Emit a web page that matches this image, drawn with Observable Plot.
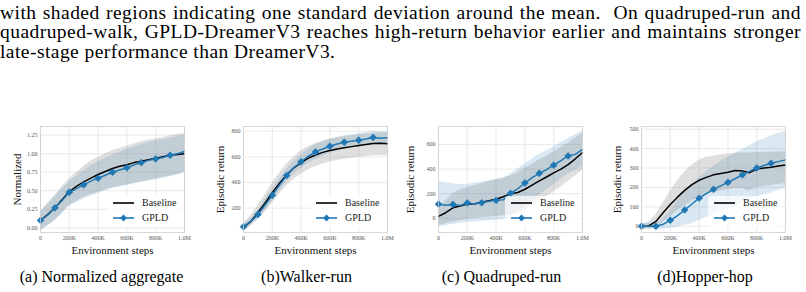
<!DOCTYPE html>
<html>
<head>
<meta charset="utf-8">
<script src="https://cdn.jsdelivr.net/npm/d3@7"></script>
<script src="https://cdn.jsdelivr.net/npm/@observablehq/plot@0.6"></script>
<style>
  html, body { margin: 0; padding: 0; background: #fff; }
  body { position: relative; width: 806px; height: 292px; overflow: hidden; font-family: "Liberation Serif", "Times New Roman", serif; color: #000; }
  .para { position: absolute; left: 0; top: 2.5px; width: 801px; font-size: 19.5px; line-height: 19.5px; letter-spacing: 0.45px; }
  .para .j { text-align: justify; text-align-last: justify; }
  .panel { position: absolute; top: 100px; }
  .panel svg { overflow: visible; }
  .panel g[aria-label="x-axis label"], .panel g[aria-label="y-axis label"] { font-size: 11px; color: #111; }
  .legend { position: absolute; width: 75px; height: 31px; background: rgba(255,255,255,0.72); border-radius: 2px; }
  .legend svg { display: block; overflow: visible; }
  .caption { position: absolute; top: 267px; font-size: 16px; line-height: 20px; white-space: nowrap; transform: translateX(-50%); }
</style>
</head>
<body>
<div class="para">
  <div class="j">with shaded regions indicating one standard deviation around the mean.&nbsp; On quadruped-run and</div>
  <div class="j">quadruped-walk, GPLD-DreamerV3 reaches high-return behavior earlier and maintains stronger</div>
  <div>late-stage performance than DreamerV3.</div>
</div>
<div id="charts"></div>
<script>
// Environment steps at which each run is summarised (every 50K).
const steps = [0, 50000, 100000, 150000, 200000, 250000, 300000, 350000, 400000, 450000, 500000,
               550000, 600000, 650000, 700000, 750000, 800000, 850000, 900000, 950000, 1000000];
const xTicks = [0, 200000, 400000, 600000, 800000, 1000000];
const xTickLabels = ["0", "200K", "400K", "600K", "800K", "1.0M"];

// (a) Normalized aggregate
const aggBase   = [0.10, 0.18, 0.27, 0.38, 0.49, 0.56, 0.62, 0.67, 0.72, 0.76, 0.80, 0.83, 0.85, 0.88, 0.90, 0.92, 0.94, 0.96, 0.98, 0.99, 1.00];
const aggBaseLo = [-0.03, 0.03, 0.10, 0.20, 0.30, 0.36, 0.41, 0.45, 0.48, 0.51, 0.54, 0.56, 0.58, 0.60, 0.62, 0.64, 0.66, 0.68, 0.70, 0.72, 0.75];
const aggBaseHi = [0.22, 0.33, 0.44, 0.55, 0.66, 0.75, 0.83, 0.90, 0.95, 1.00, 1.04, 1.07, 1.10, 1.13, 1.16, 1.18, 1.20, 1.22, 1.24, 1.26, 1.27];
const aggGpld   = [0.10, 0.17, 0.27, 0.37, 0.48, 0.53, 0.58, 0.63, 0.67, 0.71, 0.75, 0.78, 0.81, 0.85, 0.88, 0.91, 0.93, 0.95, 0.98, 1.00, 1.03];
const aggGpldLo = [-0.04, 0.02, 0.10, 0.19, 0.29, 0.34, 0.39, 0.43, 0.46, 0.50, 0.53, 0.55, 0.57, 0.59, 0.61, 0.63, 0.65, 0.67, 0.69, 0.71, 0.75];
const aggGpldHi = [0.21, 0.31, 0.42, 0.52, 0.62, 0.70, 0.77, 0.84, 0.89, 0.94, 0.98, 1.02, 1.06, 1.09, 1.12, 1.15, 1.17, 1.19, 1.21, 1.23, 1.25];
const aggTicks  = [0, 0.25, 0.5, 0.75, 1.0, 1.25];

// (b) Walker-run
const walkBase   = [50, 95, 165, 240, 320, 395, 460, 515, 555, 590, 615, 635, 650, 662, 672, 680, 688, 697, 705, 707, 703];
const walkBaseLo = [20, 55, 110, 170, 240, 310, 375, 425, 465, 500, 525, 545, 560, 572, 582, 590, 597, 603, 608, 610, 610];
const walkBaseHi = [80, 140, 220, 305, 395, 475, 545, 600, 645, 680, 705, 722, 737, 748, 757, 765, 772, 778, 783, 786, 790];
const walkGpld   = [55, 95, 150, 225, 300, 380, 455, 515, 562, 605, 638, 662, 683, 700, 714, 722, 730, 740, 752, 745, 750];
const walkGpldLo = [35, 70, 115, 180, 255, 330, 405, 465, 510, 550, 580, 605, 628, 645, 660, 670, 680, 690, 700, 700, 705];
const walkGpldHi = [75, 120, 185, 270, 345, 430, 505, 565, 615, 660, 695, 718, 738, 752, 765, 772, 780, 788, 800, 795, 795];
const walkTicks  = [200, 400, 600, 800];

// (c) Quadruped-run
const quadBase   = [15, 45, 85, 100, 115, 118, 130, 142, 155, 175, 198, 210, 236, 270, 305, 336, 370, 400, 437, 484, 535];
const quadBaseLo = [-60, -45, -30, -20, -10, 0, 5, 10, 15, 20, 25, 40, 70, 105, 140, 175, 215, 255, 300, 345, 390];
const quadBaseHi = [90, 140, 200, 230, 250, 265, 280, 300, 315, 330, 345, 370, 405, 440, 475, 505, 540, 575, 610, 650, 690];
const quadGpld   = [115, 106, 112, 104, 125, 116, 126, 139, 146, 150, 203, 240, 287, 330, 366, 396, 432, 470, 507, 520, 560];
const quadGpldLo = [-75, -60, -50, -40, -35, -30, -25, -20, -15, -10, 10, 50, 95, 140, 190, 230, 270, 320, 360, 390, 420];
const quadGpldHi = [300, 290, 280, 275, 275, 285, 295, 305, 315, 320, 360, 400, 440, 480, 520, 550, 580, 615, 650, 680, 710];
const quadTicks  = [0, 200, 400, 600];

// (d) Hopper-hop
const hopBase   = [0, 2, 25, 70, 112, 150, 185, 215, 237, 252, 265, 272, 278, 287, 285, 276, 295, 300, 304, 310, 316];
const hopBaseLo = [-10, -15, -5, 20, 50, 80, 105, 130, 150, 165, 175, 183, 190, 195, 195, 180, 200, 205, 210, 215, 220];
const hopBaseHi = [10, 20, 60, 120, 180, 235, 280, 315, 340, 355, 362, 368, 372, 376, 378, 378, 380, 380, 382, 383, 385];
const hopGpld   = [0, 0, 0, 10, 31, 55, 84, 115, 145, 168, 190, 208, 226, 245, 265, 283, 300, 313, 325, 333, 342];
const hopGpldLo = [-15, -15, -15, -15, -10, -5, 5, 15, 30, 45, 60, 75, 90, 105, 120, 135, 150, 162, 172, 185, 195];
const hopGpldHi = [15, 15, 15, 40, 80, 130, 175, 215, 250, 280, 310, 335, 355, 375, 395, 415, 435, 450, 465, 478, 490];
const hopTicks  = [0, 100, 200, 300, 400, 500];

const seriesNames = ["Baseline", "GPLD"];
const captions = ["(a) Normalized aggregate", "(b)Walker-run", "(c) Quadruped-run", "(d)Hopper-hop"];

const BLUE = "#1f77b4";
const FRAME_W = 144, FRAME_TOP = 126, FRAME_BOTTOM = 232;
const M_LEFT = 40, M_RIGHT = 14, M_BOTTOM = 30, SVG_TOP = 100;

const panels = [
  {left: 40,  domain: [-0.063, 1.367], ticks: aggTicks,  fmt: d3.format(".2f"), label: "Normalized",      labelOffset: 27,
   base: [aggBase, aggBaseLo, aggBaseHi], gpld: [aggGpld, aggGpldLo, aggGpldHi], caption: captions[0], capX: 101.5},
  {left: 243, domain: [10, 837],       ticks: walkTicks, fmt: d3.format("d"),   label: "Episodic return", labelOffset: 27,
   base: [walkBase, walkBaseLo, walkBaseHi], gpld: [walkGpld, walkGpldLo, walkGpldHi], caption: captions[1], capX: 306.5},
  {left: 438, domain: [-116, 747],     ticks: quadTicks, fmt: d3.format("d"),   label: "Episodic return", labelOffset: 32,
   base: [quadBase, quadBaseLo, quadBaseHi], gpld: [quadGpld, quadGpldLo, quadGpldHi], caption: captions[2], capX: 501.5},
  {left: 641, domain: [-32, 514],      ticks: hopTicks,  fmt: d3.format("d"),   label: "Episodic return", labelOffset: 28,
   base: [hopBase, hopBaseLo, hopBaseHi], gpld: [hopGpld, hopGpldLo, hopGpldHi], caption: captions[3], capX: 705}
];

const rows = ([mean, lo, hi]) => steps.map((step, i) => ({step, mean: mean[i], lo: lo[i], hi: hi[i], i}));

const host = document.getElementById("charts");

for (const p of panels) {
  const base = rows(p.base);
  const gpld = rows(p.gpld);
  const marked = gpld.filter(d => d.i % 2 === 0 && d.i <= 18);
  const marginTop = FRAME_TOP - SVG_TOP;

  const chart = Plot.plot({
    width: M_LEFT + FRAME_W + M_RIGHT,
    height: marginTop + (FRAME_BOTTOM - FRAME_TOP) + M_BOTTOM,
    marginLeft: M_LEFT, marginRight: M_RIGHT, marginTop, marginBottom: M_BOTTOM,
    style: {fontFamily: "'Liberation Serif', serif", fontSize: "6px", color: "#555", background: "transparent"},
    x: {domain: [0, 1000000], ticks: xTicks, tickFormat: (d, i) => xTickLabels[i], tickSize: 0, tickPadding: 3,
        label: "Environment steps", labelAnchor: "center", labelArrow: "none", labelOffset: 21},
    y: {domain: p.domain, ticks: p.ticks, tickFormat: p.fmt, tickSize: 0, tickPadding: 3,
        label: p.label, labelAnchor: "center", labelArrow: "none", labelOffset: p.labelOffset},
    marks: [
      Plot.gridX(xTicks, {stroke: "#e4e4e4", strokeOpacity: 1, strokeWidth: 0.8}),
      Plot.gridY(p.ticks, {stroke: "#e4e4e4", strokeOpacity: 1, strokeWidth: 0.8}),
      Plot.areaY(gpld, {x: "step", y1: "lo", y2: "hi", fill: BLUE, fillOpacity: 0.17}),
      Plot.areaY(base, {x: "step", y1: "lo", y2: "hi", fill: "#808080", fillOpacity: 0.25}),
      Plot.line(base, {x: "step", y: "mean", stroke: "#000", strokeWidth: 1.5}),
      Plot.line(gpld, {x: "step", y: "mean", stroke: BLUE, strokeWidth: 1.5}),
      Plot.dot(marked, {x: "step", y: "mean", symbol: "diamond2", r: 3.1, fill: BLUE, stroke: BLUE, strokeWidth: 0.6}),
      Plot.frame({stroke: "#cfcfcf", strokeWidth: 0.8})
    ]
  });

  const wrap = document.createElement("div");
  wrap.className = "panel";
  wrap.style.left = (p.left - M_LEFT) + "px";
  wrap.append(chart);
  host.append(wrap);

  // legend box in the lower-right corner of the frame
  const lg = d3.select(host).append("div").attr("class", "legend")
    .style("left", (p.left + FRAME_W - 77) + "px")
    .style("top", (FRAME_BOTTOM - 36) + "px");
  const svg = lg.append("svg").attr("width", 75).attr("height", 31);
  seriesNames.forEach((name, k) => {
    const cy = 7 + k * 15;
    svg.append("line").attr("x1", 6).attr("x2", 27).attr("y1", cy).attr("y2", cy)
      .attr("stroke", k === 0 ? "#000" : BLUE).attr("stroke-width", 1.6);
    if (k === 1) {
      svg.append("path").attr("transform", `translate(16.5,${cy})`)
        .attr("d", d3.symbol(d3.symbolDiamond2, Math.PI * 9.6)()).attr("fill", BLUE);
    }
    svg.append("text").attr("x", 35).attr("y", cy + 3.3)
      .attr("font-size", 10).attr("font-family", "'Liberation Serif', serif").attr("fill", "#222").text(name);
  });

  d3.select(host).append("div").attr("class", "caption").style("left", p.capX + "px").text(p.caption);
}
</script>
</body>
</html>
